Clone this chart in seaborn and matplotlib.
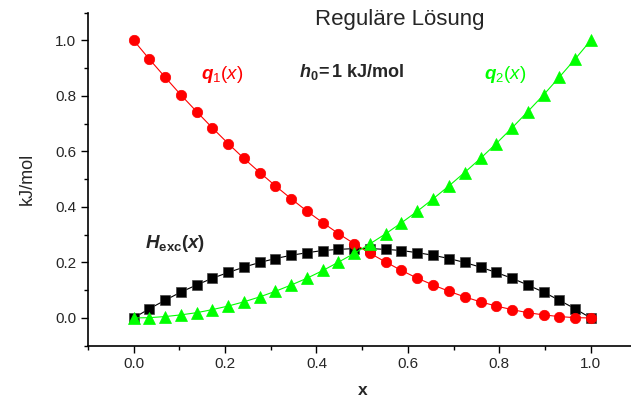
import numpy as np
import pandas as pd
import matplotlib
matplotlib.use("Agg")
import matplotlib.pyplot as plt
import seaborn as sns
from matplotlib.ticker import MultipleLocator

# Data: regular solution, 30 points
x = [0.000, 0.034, 0.069, 0.103, 0.138, 0.172, 0.207, 0.241, 0.276, 0.310,
     0.345, 0.379, 0.414, 0.448, 0.483, 0.517, 0.552, 0.586, 0.621, 0.655,
     0.690, 0.724, 0.759, 0.793, 0.828, 0.862, 0.897, 0.931, 0.966, 1.000]
q1 = [1.000, 0.933, 0.867, 0.804, 0.743, 0.685, 0.628, 0.575, 0.524, 0.476,
      0.429, 0.385, 0.343, 0.304, 0.267, 0.233, 0.201, 0.171, 0.143, 0.119,
      0.096, 0.076, 0.058, 0.043, 0.030, 0.019, 0.011, 0.005, 0.001, 0.000]
q2 = [0.000, 0.001, 0.005, 0.011, 0.019, 0.030, 0.043, 0.058, 0.076, 0.096,
      0.119, 0.143, 0.171, 0.201, 0.233, 0.267, 0.304, 0.343, 0.385, 0.429,
      0.476, 0.524, 0.575, 0.628, 0.685, 0.743, 0.804, 0.867, 0.933, 1.000]
hexc = [0.000, 0.033, 0.064, 0.093, 0.119, 0.143, 0.164, 0.183, 0.200, 0.214,
        0.226, 0.235, 0.243, 0.247, 0.250, 0.250, 0.247, 0.243, 0.235, 0.226,
        0.214, 0.200, 0.183, 0.164, 0.143, 0.119, 0.093, 0.064, 0.033, 0.000]

sns.set_style("ticks")
plt.rcParams['font.family'] = ['Liberation Sans', 'DejaVu Sans']
plt.rcParams['mathtext.fontset'] = 'custom'
plt.rcParams['mathtext.rm'] = 'Liberation Sans'
plt.rcParams['mathtext.it'] = 'Liberation Sans:italic'
plt.rcParams['mathtext.bf'] = 'Liberation Sans:bold'
plt.rcParams['mathtext.bfit'] = 'Liberation Sans:bold:italic'

df = pd.DataFrame({'x': x, 'q1': q1, 'q2': q2, 'hexc': hexc})

fig = plt.figure(figsize=(6.31, 3.99), dpi=100)
ax = fig.add_axes([0.1395, 0.1336, 0.869, 0.8346])

sns.lineplot(data=df, x='x', y='hexc', ax=ax, color='black', lw=0.8,
             marker='s', markersize=6.5, markeredgecolor='#444444', markeredgewidth=0.5)
sns.lineplot(data=df, x='x', y='q1', ax=ax, color='#ff0000', lw=0.8,
             marker='o', markersize=7.5, markeredgecolor='#ff0000', markeredgewidth=0.5)
sns.lineplot(data=df, x='x', y='q2', ax=ax, color='#00ff00', lw=0.8,
             marker='^', markersize=8, markeredgecolor='#00ff00', markeredgewidth=0.5)

ax.set_xlim(-0.1, 1.1)
ax.set_ylim(-0.1, 1.1)
ax.xaxis.set_major_locator(MultipleLocator(0.2))
ax.xaxis.set_minor_locator(MultipleLocator(0.1))
ax.yaxis.set_major_locator(MultipleLocator(0.2))
ax.yaxis.set_minor_locator(MultipleLocator(0.1))
ax.set_xticks([0.0, 0.2, 0.4, 0.6, 0.8, 1.0])
ax.set_yticks([0.0, 0.2, 0.4, 0.6, 0.8, 1.0])
ax.tick_params(which='major', length=5, width=1, labelsize=11, color='black')
ax.tick_params(which='minor', length=3, width=1, color='black')
for s in ['left', 'bottom']:
    ax.spines[s].set_linewidth(1.2)
    ax.spines[s].set_color('black')
sns.despine(ax=ax)

ax.set_xlabel('x', fontsize=12.5, fontweight='bold', labelpad=8)
ax.set_ylabel('kJ/mol', fontsize=13, labelpad=14)

ax.text(0.583, 1.075, 'Reguläre Lösung', fontsize=16, ha='center', va='center')
ax.text(0.478, 0.888, r'$\mathbfit{h}_{\mathbf{0}}\!\mathbf{=1\ kJ/mol}$',
        fontsize=13, ha='center', va='center')
ax.text(0.194, 0.877, r'$\mathbfit{q}_{1}(\mathit{x})$', color='#ff0000',
        fontsize=13.5, ha='center', va='center')
ax.text(0.813, 0.877, r'$\mathbfit{q}_{2}(\mathit{x})$', color='#00ff00',
        fontsize=13.5, ha='center', va='center')
ax.text(0.091, 0.27, r'$\mathbfit{H}_{\mathbf{exc}}\mathbf{(}\mathbfit{x}\mathbf{)}$',
        fontsize=13.5, ha='center', va='center')

fig.savefig('out.png', dpi=100)
